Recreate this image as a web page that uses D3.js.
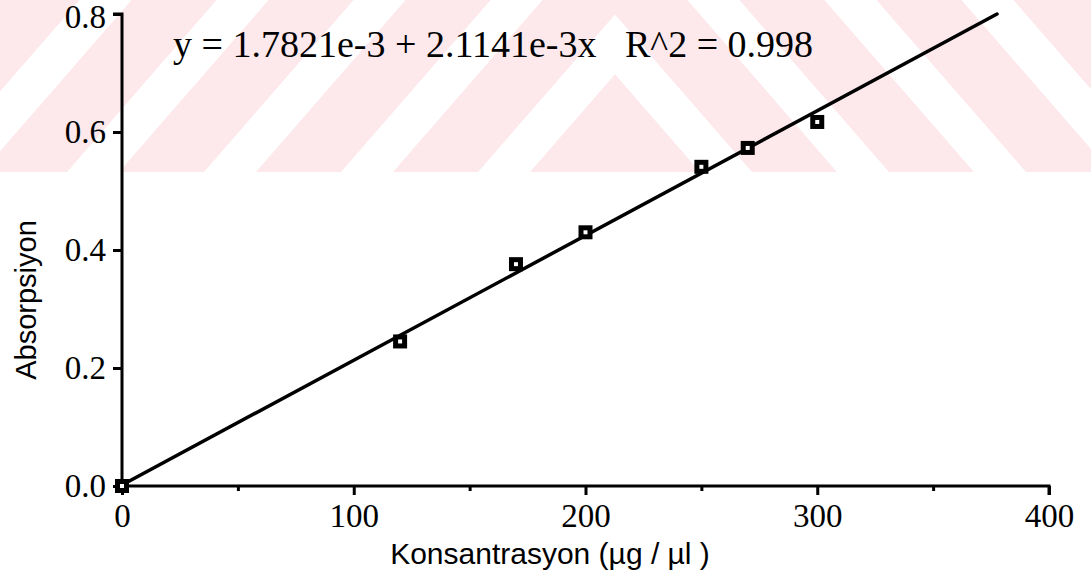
<!DOCTYPE html>
<html>
<head>
<meta charset="utf-8">
<script src="https://cdn.jsdelivr.net/npm/d3@7"></script>
<style>
  html, body { margin: 0; padding: 0; background: #fff; }
  svg { display: block; }
</style>
</head>
<body>
<svg id="chart" width="1091" height="580"></svg>
<script>
// Calibration data: concentration (µg/µl) vs absorbance
const concentration = [0, 120, 170, 200, 250, 270, 300];
const absorbance    = [0.0, 0.245, 0.376, 0.430, 0.541, 0.573, 0.617];

// Least-squares fit reported on the chart
const intercept = 1.7821e-3;
const slope = 2.1141e-3;
const equationText = "y = 1.7821e-3 + 2.1141e-3x   R^2 = 0.998";

const xTicks = [0, 100, 200, 300, 400];
const xMinorTicks = [50, 150, 250, 350];
const yTicks = [0.0, 0.2, 0.4, 0.6, 0.8];
const xTitle = "Konsantrasyon (µg / µl )";
const yTitle = "Absorpsiyon";

const W = 1091, H = 580;
const svg = d3.select("#chart");
const defs = svg.append("defs");

// Faint diagonal stripe band across the top of the page, mirrored about a centre line
const bandH = 172, centerX = 615, period = 137, pinkW = 85, rise = 1.15;
const run = bandH / rise;
defs.append("clipPath").attr("id", "leftHalf")
  .append("rect").attr("x", 0).attr("y", 0).attr("width", centerX).attr("height", bandH);
defs.append("clipPath").attr("id", "rightHalf")
  .append("rect").attr("x", centerX).attr("y", 0).attr("width", W - centerX).attr("height", bandH);
const leftBand = svg.append("g").attr("clip-path", "url(#leftHalf)");
const rightBand = svg.append("g").attr("clip-path", "url(#rightHalf)");
const stripeIdx = d3.range(-2, 9);
leftBand.selectAll("path").data(stripeIdx).join("path")
  .attr("d", k => {
    const x0 = centerX - k * period;
    return `M${x0 - pinkW},${bandH} L${x0},${bandH} L${x0 + run},0 L${x0 - pinkW + run},0 Z`;
  })
  .attr("fill", "#fde8ec");
rightBand.selectAll("path").data(stripeIdx).join("path")
  .attr("d", k => {
    const x0 = centerX + k * period;
    return `M${x0 + pinkW},${bandH} L${x0},${bandH} L${x0 - run},0 L${x0 + pinkW - run},0 Z`;
  })
  .attr("fill", "#fde8ec");

const x = d3.scaleLinear().domain([0, 400]).range([122, 1049]);
const y = d3.scaleLinear().domain([0, 0.8]).range([486, 14]);

const serif = "'Liberation Serif', 'Times New Roman', serif";
const sans = "'Liberation Sans', Arial, sans-serif";

// Axes
const xAxis = svg.append("g").attr("transform", `translate(0,${y(0)})`)
  .call(d3.axisBottom(x).tickValues(xTicks).tickSize(9).tickPadding(9).tickFormat(d3.format("d")));
const xMinor = svg.append("g").attr("transform", `translate(0,${y(0)})`)
  .call(d3.axisBottom(x).tickValues(xMinorTicks).tickSize(5).tickFormat(""));
xMinor.select(".domain").remove();
const yAxis = svg.append("g").attr("transform", `translate(${x(0)},0)`)
  .call(d3.axisLeft(y).tickValues(yTicks).tickSize(9).tickPadding(7).tickFormat(d3.format(".1f")));

[xAxis, xMinor, yAxis].forEach(g => {
  g.selectAll("path.domain").attr("stroke", "#000").attr("stroke-width", 3);
  g.selectAll(".tick line").attr("stroke", "#000").attr("stroke-width", 3);
  g.selectAll(".tick text").attr("fill", "#000").style("font-family", serif).style("font-size", "33px");
});
xAxis.select(".domain").attr("d", `M${x(0)},0H${x(400)}V9`);
yAxis.select(".domain").attr("d", `M-9,${y(0.8)}H0V${y(0)}`);
// the top tick label sits flush with the top edge
yAxis.selectAll(".tick").filter(d => d === 0.8).select("text").attr("dy", "0.42em");

// Regression line, drawn up to the top of the plot
const xEnd = (0.8 - intercept) / slope;
const fit = [0, xEnd].map(v => [v, intercept + slope * v]);
svg.append("path")
  .attr("d", d3.line().x(d => x(d[0])).y(d => y(d[1]))(fit))
  .attr("fill", "none").attr("stroke", "#000").attr("stroke-width", 3.5)
  .attr("stroke-linecap", "round");

// Square markers with a small open centre
const pts = concentration.map((c, i) => [c, absorbance[i]]);
const mk = svg.append("g");
mk.selectAll("rect.outer").data(pts).join("rect").attr("class", "outer")
  .attr("x", d => x(d[0]) - 7).attr("y", d => y(d[1]) - 7)
  .attr("width", 14).attr("height", 14).attr("fill", "#000");
mk.selectAll("rect.inner").data(pts).join("rect").attr("class", "inner")
  .attr("x", d => x(d[0]) - 2).attr("y", d => y(d[1]) - 2)
  .attr("width", 4).attr("height", 4).attr("fill", "#fff");

// Equation label
svg.append("text").attr("x", 173).attr("y", 57)
  .style("font-family", serif).style("font-size", "38px").attr("fill", "#000")
  .attr("xml:space", "preserve").style("white-space", "pre")
  .text(equationText);

// Axis titles
svg.append("text").attr("x", 550).attr("y", 564).attr("text-anchor", "middle")
  .style("font-family", sans).style("font-size", "30px").attr("fill", "#000")
  .text(xTitle);
svg.append("text").attr("transform", `translate(36,300) rotate(-90)`).attr("text-anchor", "middle")
  .style("font-family", sans).style("font-size", "29px").attr("fill", "#000")
  .text(yTitle);
</script>
</body>
</html>
